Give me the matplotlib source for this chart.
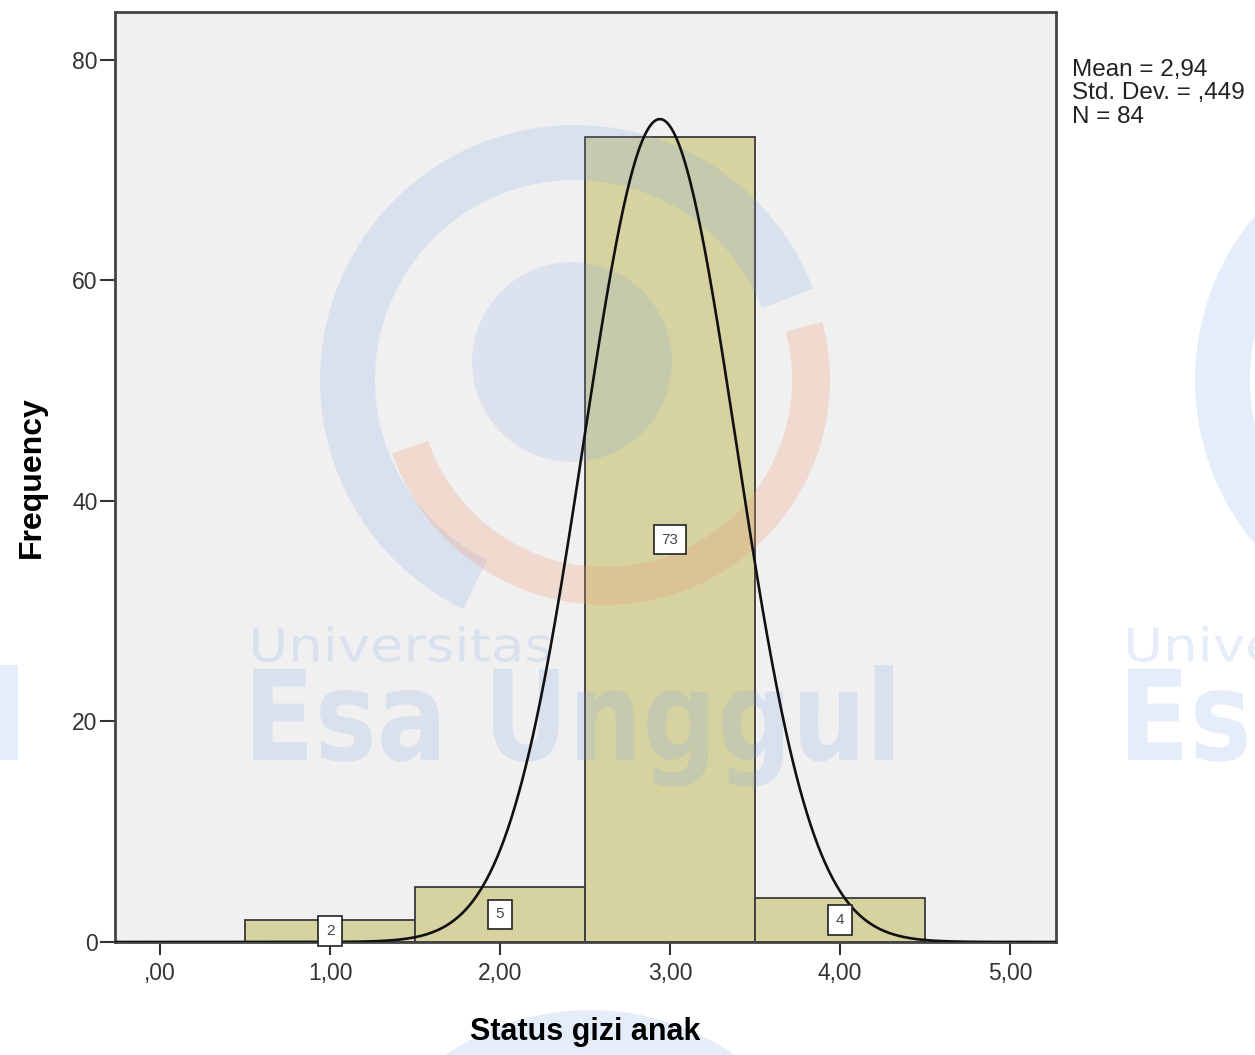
import numpy as np
import matplotlib
matplotlib.use("Agg")
import matplotlib.pyplot as plt
import matplotlib.transforms as mtransforms
from matplotlib.patches import Wedge, Circle, PathPatch
from matplotlib.textpath import TextPath
from matplotlib.font_manager import FontProperties

# histogram data (SPSS output)
bin_centers = [1, 2, 3, 4]
counts = [2, 5, 73, 4]
mean_val = 2.94
sd_val = 0.449
n_total = 84

x_ticks = [0, 1, 2, 3, 4, 5]
x_tick_labels = [",00", "1,00", "2,00", "3,00", "4,00", "5,00"]
y_ticks = [0, 20, 40, 60, 80]

W, H = 1255, 1055
plt.rcParams["font.family"] = ["Liberation Sans", "DejaVu Sans"]

fig = plt.figure(figsize=(W / 100, H / 100), dpi=100)
ax = fig.add_axes([115 / W, 1 - 942 / H, (1056 - 115) / W, (942 - 12) / H])
ax.set_facecolor("#f0f0f0")

# bars
ax.bar(bin_centers, counts, width=1.0, color="#d6d3a1", edgecolor="#3a3a3a",
       linewidth=1.3, zorder=1)

# normal curve
xs = np.linspace(-0.27, 5.27, 800)
pdf = np.exp(-0.5 * ((xs - mean_val) / sd_val) ** 2) / (sd_val * np.sqrt(2 * np.pi))
ax.plot(xs, n_total * 1.0 * pdf, color="#111111", linewidth=1.9, zorder=3)

# count boxes
for c, n in zip(bin_centers, counts):
    ax.text(c, n / 2, str(n), ha="center", va="center", fontsize=11, color="#444444",
            zorder=4, bbox=dict(boxstyle="square,pad=0.5", facecolor="white",
                                edgecolor="#222222", linewidth=1.2))

ax.set_xlim(-0.265, 5.27)
ax.set_ylim(0, 84.35)
ax.set_xticks(x_ticks)
ax.set_xticklabels(x_tick_labels)
ax.set_yticks(y_ticks)
ax.tick_params(axis="x", length=9.5, width=1.5, pad=5, labelsize=16.5, colors="#333333")
ax.tick_params(axis="y", length=10.5, width=1.5, pad=2, labelsize=16.5, colors="#333333")
for sp in ax.spines.values():
    sp.set_color("#444444")
    sp.set_linewidth(2)

ax.set_xlabel("Status gizi anak", fontsize=22, fontweight="bold", labelpad=23)
ax.set_ylabel("Frequency", fontsize=23, fontweight="bold", labelpad=18)

fig.text(1072 / W, 1 - 59 / H, "Mean = 2,94\nStd. Dev. = ,449\nN = 84",
         ha="left", va="top", fontsize=17.5, linespacing=1.08, color="#222222")

# faint university watermark
ident = mtransforms.IdentityTransform()
flip = mtransforms.Affine2D().scale(1, -1).translate(0, H)
blue = (120 / 255, 160 / 255, 230 / 255)
orange = (240 / 255, 150 / 255, 110 / 255)


def mark_text(s, x0, y0, x1, y1, weight):
    tp = TextPath((0, 0), s, size=100,
                  prop=FontProperties(family="DejaVu Sans", weight=weight))
    ext = tp.get_extents()
    t = (mtransforms.Affine2D().translate(-ext.x0, -ext.y1)
         .scale((x1 - x0) / ext.width, -(y1 - y0) / ext.height)
         .translate(x0, y0))
    p = PathPatch(tp, facecolor=blue, edgecolor="none", alpha=0.18,
                  transform=t + flip, clip_on=False, zorder=1.5)
    ax.add_artist(p)


def logo(cx, cy):
    ring = Wedge((cx, H - cy), 255, 21, 244, width=55, facecolor=blue,
                 edgecolor="none", alpha=0.18, transform=ident, clip_on=False, zorder=1.5)
    arc = Wedge((cx + 30, H - cy), 225, 199, 375, width=38, facecolor=orange,
                edgecolor="none", alpha=0.25, transform=ident, clip_on=False, zorder=1.5)
    inner = Circle((cx - 3, H - cy + 18), 100, facecolor=blue, edgecolor="none",
                   alpha=0.16, transform=ident, clip_on=False, zorder=1.5)
    for p in (ring, arc, inner):
        ax.add_artist(p)


for dx in (-875, 0, 875):
    mark_text("Universitas", 253 + dx, 626, 550 + dx, 662, "normal")
    mark_text("Esa Unggul", 253 + dx, 665, 893 + dx, 787, "bold")
for cx, cy in ((575, 380), (1450, 380), (590, 1265)):
    logo(cx, cy)

fig.savefig("out.png", dpi=100)
